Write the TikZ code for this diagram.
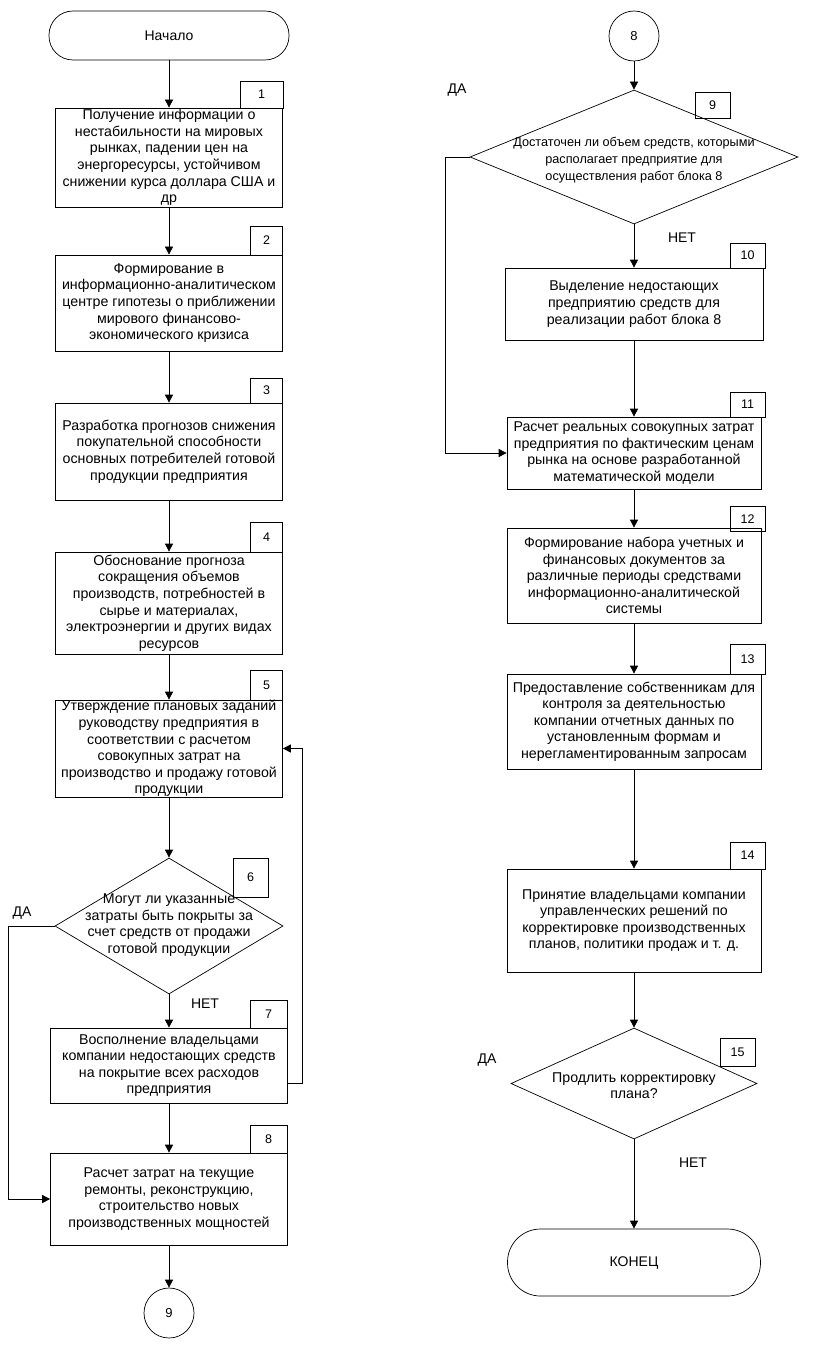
\documentclass[tikz,border=0pt]{standalone}
\usepackage{fontspec}
\setmainfont{Liberation Sans}
\usetikzlibrary{arrows.meta,shapes.geometric}
\begin{document}
\begin{tikzpicture}[x=1pt,y=-1pt,
  box/.style={draw, line width=0.7pt, align=center, inner sep=0pt, font=\fontsize{14.2}{16.6}\selectfont},
  term/.style={draw, line width=0.7pt, align=center, inner sep=0pt, font=\fontsize{14}{16.6}\selectfont},
  diam/.style={draw, diamond, line width=0.7pt, inner sep=0pt},
  dtxt/.style={align=center, inner sep=0pt, font=\fontsize{14.2}{16.6}\selectfont},
  conncirc/.style={draw, circle, line width=0.7pt, inner sep=0pt, minimum size=50pt, font=\fontsize{13}{16}\selectfont},
  lbl/.style={draw, line width=0.7pt, inner sep=0pt, font=\fontsize{12.5}{14}\selectfont},
  txt/.style={inner sep=0pt, font=\fontsize{14}{16}\selectfont},
  conn/.style={draw, line width=0.7pt, -{Triangle[length=8pt,width=8pt]}}]
\useasboundingbox (0,0) rectangle (820,1348);

% left column
\node[term, rounded corners=24pt, minimum width=240pt, minimum height=49pt] (start) at (169,35.5) {Начало};
\node[box, minimum width=227pt, minimum height=99pt] (b1) at (169,157.5) {Получение информации о\\нестабильности на мировых\\рынках, падении цен на\\энергоресурсы, устойчивом\\снижении курса доллара США и\\др};
\node[box, minimum width=227pt, minimum height=96pt] (b2) at (169,303) {Формирование в\\информационно-аналитическом\\центре гипотезы о приближении\\мирового финансово-\\экономического кризиса};
\node[box, minimum width=227pt, minimum height=97pt] (b3) at (169,451.5) {Разработка прогнозов снижения\\покупательной способности\\основных потребителей готовой\\продукции предприятия};
\node[box, minimum width=227pt, minimum height=102pt] (b4) at (169,603) {Обоснование прогноза\\сокращения объемов\\производств, потребностей в\\сырье и материалах,\\электроэнергии и других видах\\ресурсов};
\node[box, minimum width=227pt, minimum height=97pt] (b5) at (169,748.5) {Утверждение плановых заданий\\руководству предприятия в\\соответствии с расчетом\\совокупных затрат на\\производство и продажу готовой\\продукции};
\node[diam, minimum width=228pt, minimum height=136pt] (d6) at (169,926) {};
\node[dtxt] (t6) at (169,925) {Могут ли указанные\\затраты быть покрыты за\\счет средств от продажи\\готовой продукции};
\node[box, minimum width=237pt, minimum height=75pt] (b7) at (169,1065.5) {Восполнение владельцами\\компании недостающих средств\\на покрытие всех расходов\\предприятия};
\node[box, minimum width=237pt, minimum height=92pt] (b8) at (169,1199) {Расчет затрат на текущие\\ремонты, реконструкцию,\\строительство новых\\производственных мощностей};
\node[conncirc] (c9) at (169,1313) {9};

% left labels
\node[lbl, minimum width=43pt, minimum height=27pt] (l1) at (261.5,94.5) {1};
\node[lbl, minimum width=32pt, minimum height=29pt] (l2) at (266.5,240.5) {2};
\node[lbl, minimum width=32pt, minimum height=25pt] (l3) at (266.5,390.5) {3};
\node[lbl, minimum width=32pt, minimum height=30pt] (l4) at (266.5,537) {4};
\node[lbl, minimum width=32pt, minimum height=30pt] (l5) at (266.5,685) {5};
\node[lbl, minimum width=35pt, minimum height=39pt] (l6) at (250.5,877.5) {6};
\node[lbl, minimum width=37pt, minimum height=28pt] (l7) at (268.5,1014) {7};
\node[lbl, minimum width=37pt, minimum height=28pt] (l8) at (268.5,1139) {8};

\node[txt] (da6) at (22,913) {ДА};
\node[txt] (net6) at (205,1004) {НЕТ};

% right column
\node[conncirc] (c8) at (634,36) {8};
\node[diam, minimum width=328pt, minimum height=134pt] (d9) at (634,157) {};
\node[dtxt, font=\fontsize{12.7}{16.8}\selectfont] (t9) at (634,160) {Достаточен ли объем средств, которыми\\располагает предприятие для\\осуществления работ блока 8};
\node[box, minimum width=258pt, minimum height=72pt] (b10) at (634,304) {Выделение недостающих\\предприятию средств для\\реализации работ блока 8};
\node[box, minimum width=254pt, minimum height=72pt] (b11) at (634,453) {Расчет реальных совокупных затрат\\предприятия по фактическим ценам\\рынка на основе разработанной\\математической модели};
\node[box, minimum width=254pt, minimum height=95pt] (b12) at (634,575.5) {Формирование набора учетных и\\финансовых документов за\\различные периоды средствами\\информационно-аналитической\\системы};
\node[box, minimum width=254pt, minimum height=95pt] (b13) at (634,721.5) {Предоставление собственникам для\\контроля за деятельностью\\компании отчетных данных по\\установленным формам и\\нерегламентированным запросам};
\node[box, minimum width=254pt, minimum height=103pt] (b14) at (634,920.5) {Принятие владельцами компании\\управленческих решений по\\корректировке производственных\\планов, политики продаж и т. д.};
\node[diam, minimum width=246pt, minimum height=111pt] (d15) at (634,1083.5) {};
\node[dtxt] (t15) at (634,1085.5) {Продлить корректировку\\плана?};
\node[term, rounded corners=33pt, minimum width=253pt, minimum height=67pt] (end) at (634,1262.5) {КОНЕЦ};

% right labels
\node[lbl, minimum width=35pt, minimum height=26pt] (l9) at (712.5,105) {9};
\node[lbl, minimum width=35pt, minimum height=25pt] (l10) at (747.5,255.5) {10};
\node[lbl, minimum width=35pt, minimum height=25pt] (l11) at (747.5,404.5) {11};
\node[lbl, minimum width=35pt, minimum height=25pt] (l12) at (747.5,519) {12};
\node[lbl, minimum width=35pt, minimum height=30pt] (l13) at (747.5,659) {13};
\node[lbl, minimum width=35pt, minimum height=27pt] (l14) at (747.5,855.5) {14};
\node[lbl, minimum width=35pt, minimum height=28pt] (l15) at (737.5,1052) {15};

\node[txt] (da9) at (457,90) {ДА};
\node[txt] (net9) at (682,238) {НЕТ};
\node[txt] (da15) at (487,1060) {ДА};
\node[txt] (net15) at (693,1163) {НЕТ};

% connectors left
\draw[conn] (start) -- (b1);
\draw[conn] (b1) -- (b2);
\draw[conn] (b2) -- (b3);
\draw[conn] (b3) -- (b4);
\draw[conn] (b4) -- (b5);
\draw[conn] (b5) -- (d6.north);
\draw[conn] (d6.south) -- (b7);
\draw[conn] (b7) -- (b8);
\draw[conn] (b8) -- (c9);
\coordinate (k6) at (8,926);
\draw[conn] (d6.west) -- (k6) |- (b8.west);
\draw[conn] ([yshift=-17.5pt]b7.east) -- ++(14,0) |- (b5.east);

% connectors right
\draw[conn] (c8) -- (d9.north);
\draw[conn] (d9.south) -- (b10);
\draw[conn] (b10) -- (b11);
\draw[conn] (b11) -- (b12);
\draw[conn] (b12) -- (b13);
\draw[conn] (b13) -- (b14);
\draw[conn] (b14) -- (d15.north);
\draw[conn] (d15.south) -- (end);
\coordinate (k9) at (445,157);
\draw[conn] (d9.west) -- (k9) |- (b11.west);
\end{tikzpicture}
\end{document}
